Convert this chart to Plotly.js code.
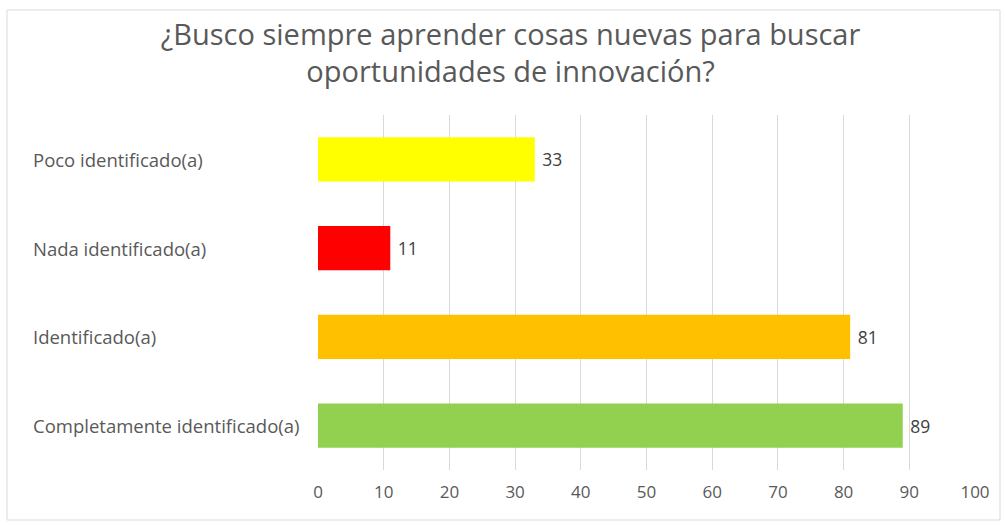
<!DOCTYPE html>
<html><head><meta charset="utf-8">
<script src="https://cdn.plot.ly/plotly-3.0.1.min.js"></script>
<style>html,body{margin:0;padding:0;background:#fff}#chart{width:1005px;height:525px}</style>
</head><body><div id="chart"></div>
<script>
const categories = ["Completamente identificado(a)", "Identificado(a)", "Nada identificado(a)", "Poco identificado(a)"];
const values = [89, 81, 11, 33];
const colors = ["#92D050", "#FFC000", "#FF0000", "#FFFF00"];
const xTicks = [0,10,20,30,40,50,60,70,80,90,100];
const titleText = "¿Busco siempre aprender cosas nuevas para buscar<br>oportunidades de innovación?";

const font = "'Open Sans', 'Noto Sans', sans-serif";
const data = [{
  type: "bar", orientation: "h",
  y: categories, x: values,
  marker: {color: colors},
  width: 0.5,
  text: values.map(v => " " + v), textposition: "outside",
  textfont: {family: font, size: 17.5, color: "#404040"},
  cliponaxis: false,
  hoverinfo: "none"
}];
const annotations = categories.map(c => ({
  xref: "paper", yref: "y", x: -0.437, y: c, text: c, showarrow: false,
  xanchor: "left", yanchor: "middle",
  font: {family: font, size: 18.5, color: "#595959"}
}));
const layout = {
  width: 1005, height: 525,
  margin: {l: 318, r: 30, t: 115, b: 55},
  paper_bgcolor: "#fff", plot_bgcolor: "#fff",
  title: {text: titleText, xref: "container", yref: "container", x: 0.508, y: 0.915, yanchor: "top",
    font: {family: font, size: 29, color: "#595959"}},
  xaxis: {range: [0, 100], tickvals: xTicks, ticktext: xTicks.map(String),
    showgrid: true, gridcolor: "#D9D9D9", gridwidth: 1, zeroline: false,
    showline: false, ticks: "", ticklabelstandoff: 10,
    tickfont: {family: font, size: 17, color: "#595959"}, fixedrange: true},
  yaxis: {categoryorder: "array", categoryarray: categories, showticklabels: false,
    showgrid: false, zeroline: false, showline: false, ticks: "", fixedrange: true},
  annotations: annotations,
  shapes: [{type: "rect", xref: "paper", yref: "paper",
    x0: -311/657, x1: 1 + 25/657, y0: -50/355, y1: 1 + 105/355,
    line: {color: "#D9D9D9", width: 1}}],
  showlegend: false
};
Plotly.newPlot("chart", data, layout, {displayModeBar: false, staticPlot: true});
</script></body></html>
